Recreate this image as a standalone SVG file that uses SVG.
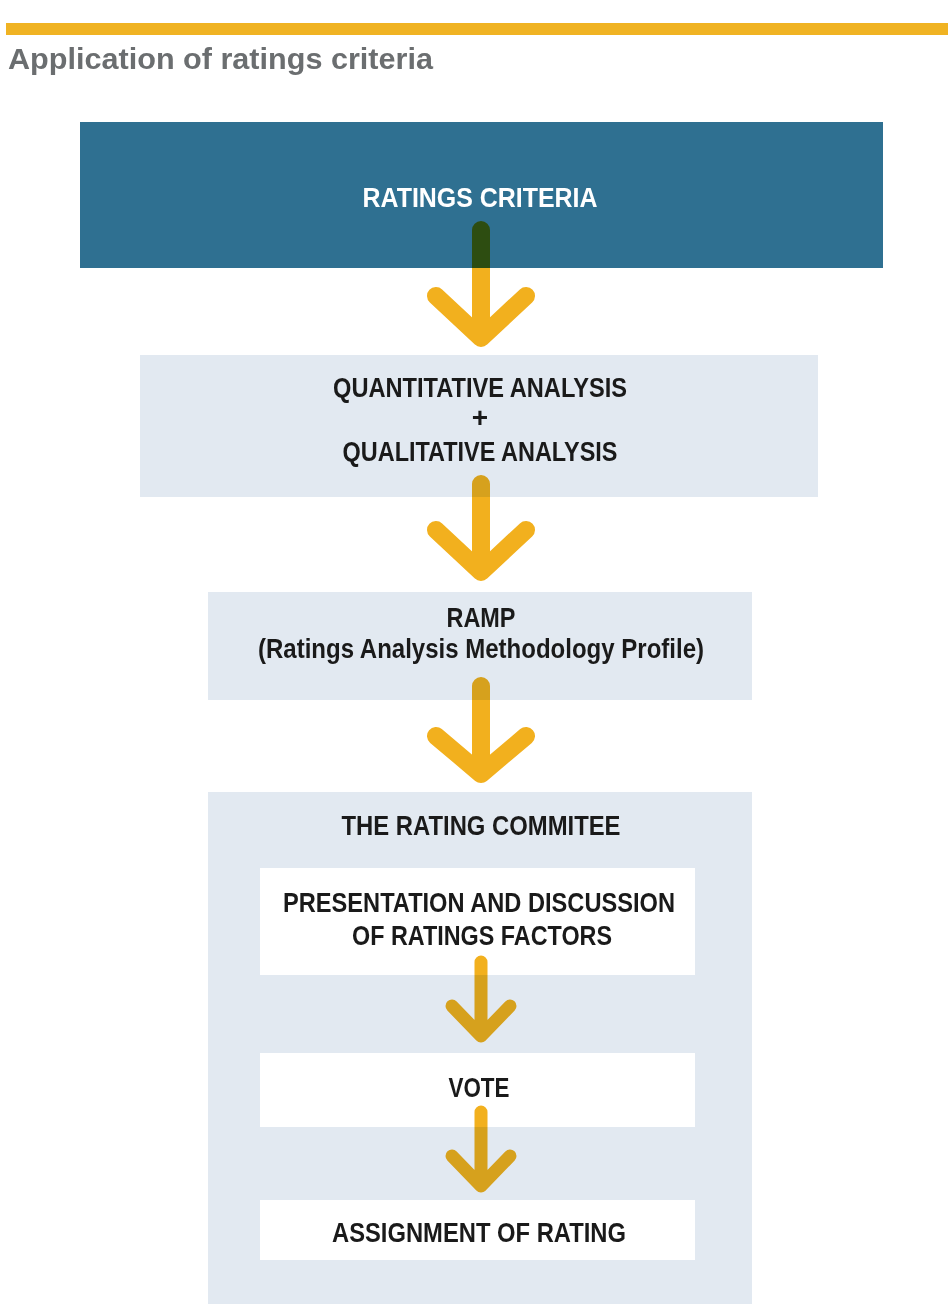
<svg xmlns="http://www.w3.org/2000/svg" width="952" height="1304" viewBox="0 0 952 1304">
<style>
.bg{fill:#ffffff}
.band{fill:#F0B323}
.title{font-family:"Liberation Sans",Arial,sans-serif;font-weight:bold;font-size:30px;fill:#6b6e70}
.dark{fill:#2F7091}
.light{fill:#E2E9F1}
.white{fill:#ffffff}
.t{font-family:"Liberation Sans",Arial,sans-serif;font-weight:bold;font-size:28px;fill:#1a1a1a;text-anchor:middle}
.tw{font-family:"Liberation Sans",Arial,sans-serif;font-weight:bold;font-size:27px;fill:#ffffff;text-anchor:middle}
.arr{fill:none;stroke:#F2B01E;stroke-linecap:round;stroke-linejoin:round;mix-blend-mode:multiply}
.big{stroke-width:18}
.small{stroke-width:13}
</style>
<rect class="bg" x="0" y="0" width="952" height="1304"/>
<rect class="band" x="6" y="23" width="942" height="12"/>
<text class="title" x="8" y="69" textLength="425" lengthAdjust="spacingAndGlyphs">Application of ratings criteria</text>

<g id="ratings-criteria">
<rect class="dark" x="80" y="122" width="803" height="146"/>
<text class="tw" x="480" y="207" textLength="235" lengthAdjust="spacingAndGlyphs">RATINGS CRITERIA</text>
</g>

<g id="analysis">
<rect class="light" x="140" y="355" width="678" height="142"/>
<text class="t" x="480" y="397" textLength="294" lengthAdjust="spacingAndGlyphs">QUANTITATIVE ANALYSIS</text>
<text class="t" x="480" y="427" font-size="24">+</text>
<text class="t" x="480" y="461" textLength="275" lengthAdjust="spacingAndGlyphs">QUALITATIVE ANALYSIS</text>
</g>

<g id="ramp">
<rect class="light" x="208" y="592" width="544" height="108"/>
<text class="t" x="481" y="627" textLength="69" lengthAdjust="spacingAndGlyphs">RAMP</text>
<text class="t" x="481" y="658" textLength="446" lengthAdjust="spacingAndGlyphs">(Ratings Analysis Methodology Profile)</text>
</g>

<g id="committee">
<rect class="light" x="208" y="792" width="544" height="512"/>
<text class="t" x="481" y="835" textLength="279" lengthAdjust="spacingAndGlyphs">THE RATING COMMITEE</text>
</g>

<g id="presentation">
<rect class="white" x="260" y="868" width="435" height="107"/>
<text class="t" x="479" y="912" textLength="392" lengthAdjust="spacingAndGlyphs">PRESENTATION AND DISCUSSION</text>
<text class="t" x="482" y="945" textLength="260" lengthAdjust="spacingAndGlyphs">OF RATINGS FACTORS</text>
</g>

<g id="vote">
<rect class="white" x="260" y="1053" width="435" height="74"/>
<text class="t" x="479" y="1097" textLength="61" lengthAdjust="spacingAndGlyphs">VOTE</text>
</g>

<g id="assignment">
<rect class="white" x="260" y="1200" width="435" height="60"/>
<text class="t" x="479" y="1242" textLength="294" lengthAdjust="spacingAndGlyphs">ASSIGNMENT OF RATING</text>
</g>

<g id="connectors">
<path class="arr big" d="M481 230 V338 M436 296 L481 338 L526 296"/>
<path class="arr big" d="M481 484 V572 M436 530 L481 572 L526 530"/>
<path class="arr big" d="M481 686 V774 M436 736 L481 774 L526 736"/>
<path class="arr small" d="M481 962 V1036 M452 1006 L481 1036 L510 1006"/>
<path class="arr small" d="M481 1112 V1186 M452 1156 L481 1186 L510 1156"/>
</g>
</svg>
